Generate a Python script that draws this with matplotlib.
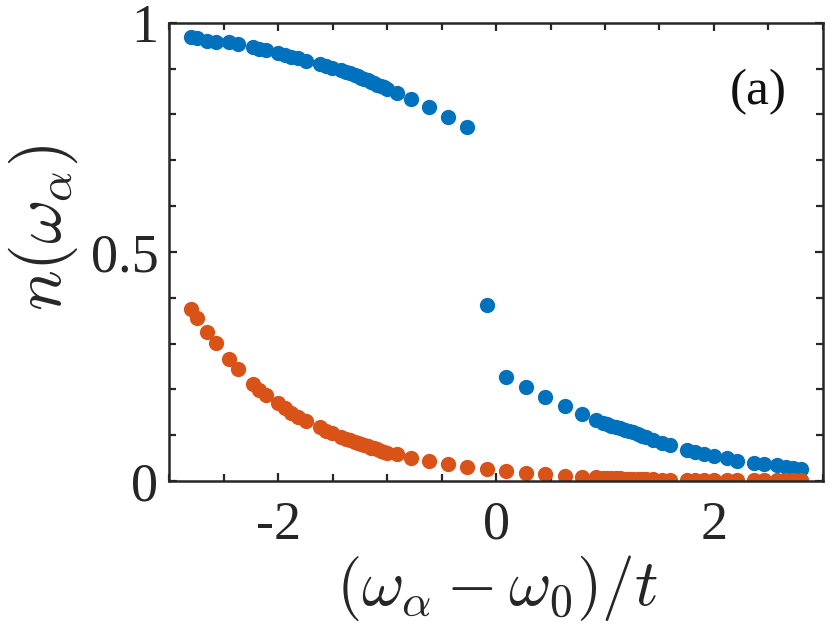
import matplotlib
matplotlib.use("Agg")
import matplotlib.pyplot as plt
from matplotlib.ticker import MultipleLocator

# energies (omega_alpha - omega_0)/t
omega = [-2.80, -2.745, -2.66, -2.57, -2.45, -2.37, -2.23, -2.18, -2.11, -2.00,
         -1.94, -1.88, -1.82, -1.75, -1.62, -1.56, -1.51, -1.42, -1.38, -1.34,
         -1.30, -1.27, -1.24, -1.21, -1.18, -1.15, -1.12, -1.09, -1.06, -1.03,
         -1.00, -0.91, -0.78, -0.62, -0.44, -0.27, -0.085, 0.092, 0.276, 0.45,
         0.63, 0.79, 0.92, 0.98, 1.02, 1.06, 1.10, 1.14, 1.18, 1.22,
         1.26, 1.30, 1.34, 1.38, 1.44, 1.52, 1.60, 1.75, 1.83, 1.91,
         2.00, 2.12, 2.21, 2.37, 2.46, 2.58, 2.66, 2.73, 2.80]

n_blue = [0.969, 0.967, 0.961, 0.958, 0.957, 0.953, 0.947, 0.943, 0.940, 0.934,
          0.930, 0.926, 0.923, 0.916, 0.910, 0.905, 0.901, 0.896, 0.893, 0.890,
          0.886, 0.883, 0.880, 0.877, 0.874, 0.871, 0.868, 0.865, 0.862, 0.859,
          0.855, 0.846, 0.833, 0.815, 0.794, 0.772, 0.383, 0.226, 0.205, 0.184,
          0.164, 0.146, 0.133, 0.127, 0.124, 0.121, 0.118, 0.115, 0.112, 0.109,
          0.106, 0.103, 0.099, 0.096, 0.090, 0.084, 0.079, 0.068, 0.063, 0.058,
          0.055, 0.050, 0.044, 0.040, 0.037, 0.035, 0.031, 0.028, 0.026]

n_orange = [0.375, 0.355, 0.326, 0.301, 0.266, 0.244, 0.211, 0.199, 0.188, 0.170,
            0.159, 0.149, 0.140, 0.131, 0.117, 0.110, 0.104, 0.095, 0.092, 0.089,
            0.086, 0.083, 0.080, 0.078, 0.076, 0.073, 0.071, 0.069, 0.066, 0.064,
            0.062, 0.059, 0.051, 0.044, 0.037, 0.031, 0.026, 0.022, 0.018, 0.015,
            0.012, 0.009, 0.008, 0.007, 0.007, 0.006, 0.006, 0.006, 0.005, 0.005,
            0.005, 0.005, 0.004, 0.004, 0.004, 0.003, 0.003, 0.003, 0.003, 0.002,
            0.002, 0.002, 0.002, 0.002, 0.002, 0.002, 0.002, 0.002, 0.002]

x_ticks = [-2, 0, 2]
x_ticklabels = ["-2", "0", "2"]
y_ticks = [0, 0.5, 1]
y_ticklabels = ["0", "0.5", "1"]

plt.rcParams['font.family'] = ['Liberation Serif', 'DejaVu Serif']
plt.rcParams['mathtext.fontset'] = 'cm'

fig = plt.figure(figsize=(8.3, 6.25), dpi=100)
ax = fig.add_axes([0.2042, 0.2304, 0.9912 - 0.2042, 0.9637 - 0.2304])

ax.plot(omega, n_blue, 'o', color='#0072BD', markersize=11, markeredgewidth=0)
ax.plot(omega, n_orange, 'o', color='#D95319', markersize=11, markeredgewidth=0)

ax.set_xlim(-3, 3)
ax.set_ylim(0, 1)
ax.set_xticks(x_ticks)
ax.set_xticklabels(x_ticklabels)
ax.set_yticks(y_ticks)
ax.set_yticklabels(y_ticklabels)
ax.xaxis.set_minor_locator(MultipleLocator(0.5))
ax.yaxis.set_minor_locator(MultipleLocator(0.1))
ax.tick_params(which='both', direction='in', top=True, right=True,
               width=1.6, color='#262626')
ax.tick_params(which='major', length=6, labelsize=39, labelcolor='#262626')
ax.tick_params(axis='x', which='major', pad=14)
ax.tick_params(axis='y', which='major', pad=8)
ax.tick_params(which='minor', length=5)
for s in ax.spines.values():
    s.set_linewidth(1.8)
    s.set_color('#262626')

fig.text(0.599, 0.059, r'$(\omega_\alpha - \omega_0)/t$', fontsize=47,
         ha='center', va='center', color='#262626')
fig.text(0.052, 0.635, r'$n(\omega_\alpha)$', fontsize=49, rotation=90,
         ha='center', va='center', color='#262626')
ax.text(0.945, 0.85, '(a)', transform=ax.transAxes, fontsize=37,
        ha='right', va='center', color='#111111')

fig.savefig('out.png', dpi=100)
